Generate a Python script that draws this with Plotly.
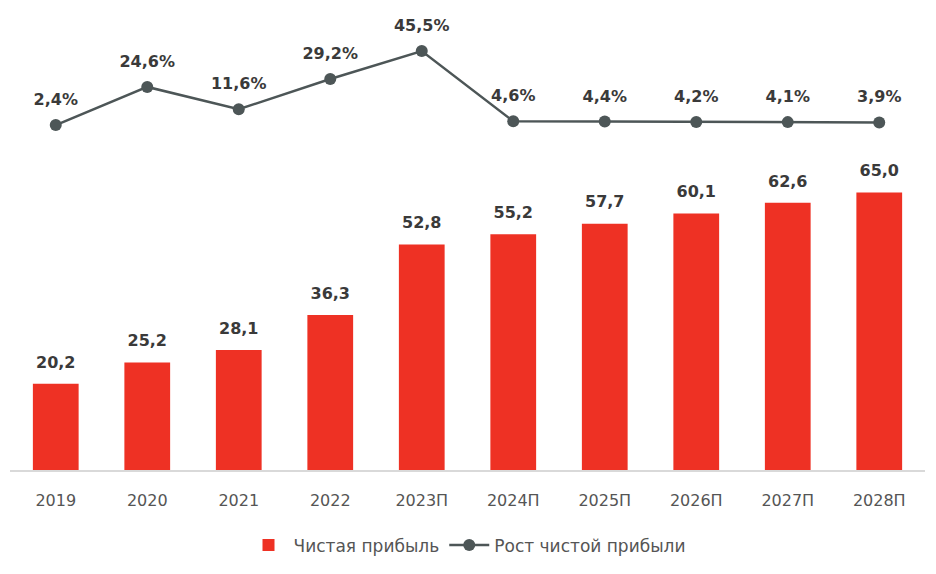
import plotly.graph_objects as go

categories = ["2019", "2020", "2021", "2022", "2023П", "2024П", "2025П", "2026П", "2027П", "2028П"]
profit = [20.2, 25.2, 28.1, 36.3, 52.8, 55.2, 57.7, 60.1, 62.6, 65.0]
growth = [2.4, 24.6, 11.6, 29.2, 45.5, 4.6, 4.4, 4.2, 4.1, 3.9]

profit_labels = [f"{v:.1f}".replace(".", ",") for v in profit]
growth_labels = [f"{v:.1f}%".replace(".", ",") for v in growth]

RED = "#EE3124"
GRAY = "#4D5657"
LBL = "#3A3A3A"
TICK = "#555555"
LBL_FONT = dict(family="DejaVu Sans", size=16, color=LBL, weight="bold")

fig = go.Figure()
fig.add_trace(go.Bar(
    x=categories, y=profit, name="Чистая прибыль",
    marker=dict(color=RED, line=dict(width=0)),
    width=0.5,
))
fig.add_trace(go.Scatter(
    x=categories, y=growth, name="Рост чистой прибыли", yaxis="y2",
    mode="lines+markers",
    line=dict(color=GRAY, width=2.5),
    marker=dict(color=GRAY, size=12),
))
# value labels
fig.add_trace(go.Scatter(
    x=categories, y=profit, mode="markers+text", showlegend=False,
    marker=dict(size=18, color="rgba(0,0,0,0)"),
    text=profit_labels, textposition="top center", textfont=LBL_FONT,
    cliponaxis=False, hoverinfo="skip",
))
fig.add_trace(go.Scatter(
    x=categories, y=growth, yaxis="y2", mode="markers+text", showlegend=False,
    marker=dict(size=24, color="rgba(0,0,0,0)"),
    text=growth_labels, textposition="top center", textfont=LBL_FONT,
    cliponaxis=False, hoverinfo="skip",
))

fig.update_layout(
    width=936, height=574,
    margin=dict(l=10, r=11, t=10, b=104),
    paper_bgcolor="white", plot_bgcolor="white",
    showlegend=True,
    legend=dict(orientation="h", x=0.5, xanchor="center", y=-0.125, yanchor="top",
                font=dict(family="DejaVu Sans", size=17, color=TICK),
                itemwidth=40, tracegroupgap=0),
    xaxis=dict(type="category", range=[-0.5, 9.5], showgrid=False,
               showline=True, linecolor="#D9D9D9", linewidth=2,
               ticks="", tickfont=dict(family="DejaVu Sans", size=16, color=TICK),
               ticklabelstandoff=15),
    yaxis=dict(range=[0, 107.75], visible=False, showgrid=False, zeroline=False),
    yaxis2=dict(range=[-198.5, 69.4], overlaying="y", visible=False,
                showgrid=False, zeroline=False),
)

fig.write_html("out.html")
